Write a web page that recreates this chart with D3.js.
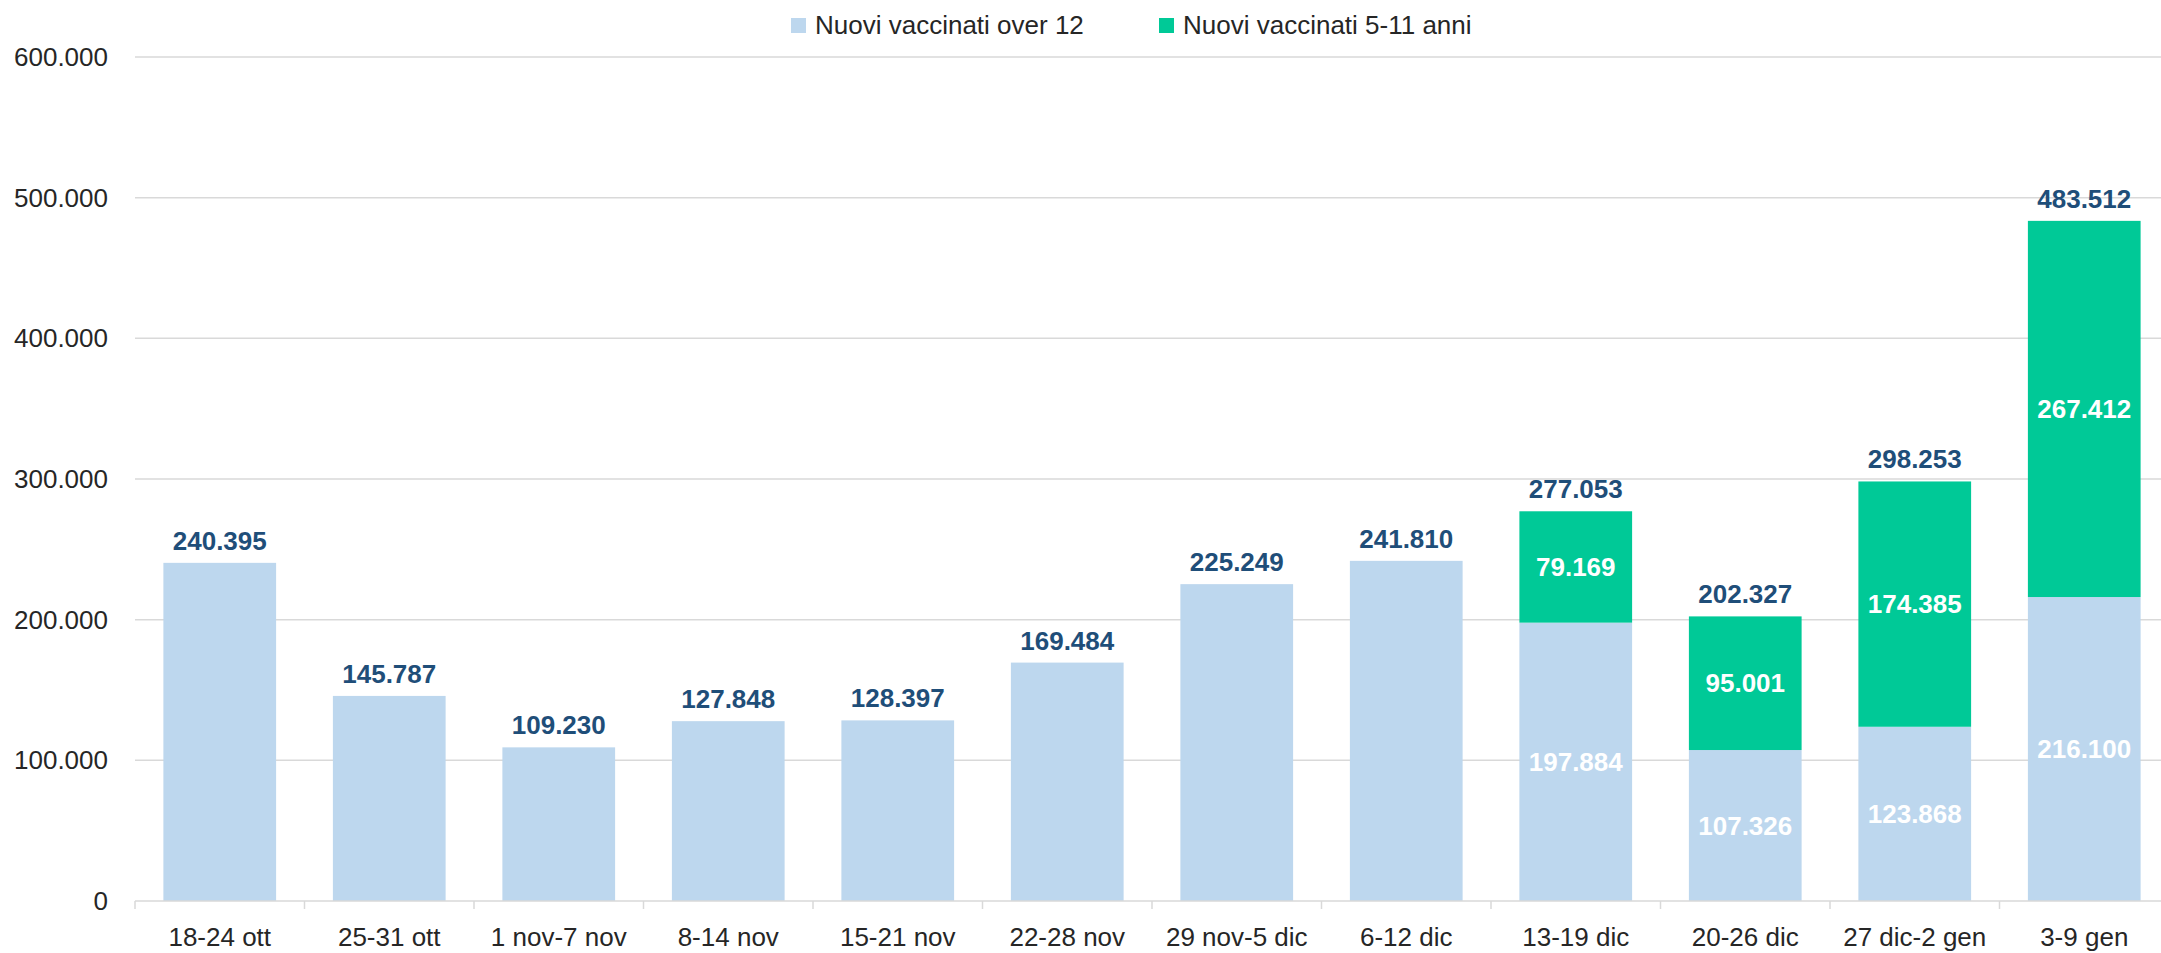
<!DOCTYPE html>
<html>
<head>
<meta charset="utf-8">
<script src="https://cdn.jsdelivr.net/npm/d3@7/dist/d3.min.js"></script>
<style>
  html, body { margin: 0; padding: 0; background: #ffffff; }
  svg { display: block; font-family: "Liberation Sans", Arial, sans-serif; }
</style>
</head>
<body>
<svg id="chart" width="2161" height="953"></svg>
<script>
const categories = ["18-24 ott", "25-31 ott", "1 nov-7 nov", "8-14 nov", "15-21 nov", "22-28 nov",
  "29 nov-5 dic", "6-12 dic", "13-19 dic", "20-26 dic", "27 dic-2 gen", "3-9 gen"];
const over12 = [240395, 145787, 109230, 127848, 128397, 169484, 225249, 241810, 197884, 107326, 123868, 216100];
const kids511 = [0, 0, 0, 0, 0, 0, 0, 0, 79169, 95001, 174385, 267412];
const yTicks = [0, 100000, 200000, 300000, 400000, 500000, 600000];
const seriesNames = ["Nuovi vaccinati over 12", "Nuovi vaccinati 5-11 anni"];
const colors = ["#BDD7EE", "#00C997"];

const svg = d3.select("#chart");
const plotLeft = 135, plotRight = 2169, plotTop = 57, plotBottom = 901;

const x = d3.scaleBand().domain(categories).range([plotLeft, plotRight]).paddingInner(0.335).paddingOuter(0.1675);
const y = d3.scaleLinear().domain([0, 600000]).range([plotBottom, plotTop]);

const fmt = v => d3.format(",")(v).replace(/,/g, ".");

// gridlines
svg.append("g").selectAll("line").data(yTicks.filter(t => t > 0)).join("line")
  .attr("x1", plotLeft).attr("x2", 2161)
  .attr("y1", d => y(d)).attr("y2", d => y(d))
  .attr("stroke", "#D9D9D9").attr("stroke-width", 1.5);

// y labels
svg.append("g").selectAll("text").data(yTicks).join("text")
  .attr("x", 108).attr("y", d => y(d)).attr("dy", "0.35em")
  .attr("text-anchor", "end").attr("font-size", 26).attr("fill", "#262626")
  .text(d => fmt(d));

// bars
const data = categories.map((c, i) => ({ c, a: over12[i], b: kids511[i], t: over12[i] + kids511[i] }));
const gBars = svg.append("g");
gBars.selectAll("rect.a").data(data).join("rect")
  .attr("class", "a")
  .attr("x", d => x(d.c)).attr("width", x.bandwidth())
  .attr("y", d => y(d.a)).attr("height", d => y(0) - y(d.a))
  .attr("fill", colors[0]);
gBars.selectAll("rect.b").data(data.filter(d => d.b > 0)).join("rect")
  .attr("class", "b")
  .attr("x", d => x(d.c)).attr("width", x.bandwidth())
  .attr("y", d => y(d.t)).attr("height", d => y(d.a) - y(d.t))
  .attr("fill", colors[1]);

// x axis
const gx = svg.append("g");
gx.append("line").attr("x1", plotLeft).attr("x2", plotRight).attr("y1", plotBottom).attr("y2", plotBottom)
  .attr("stroke", "#D9D9D9").attr("stroke-width", 1.5);
gx.selectAll("line.tick").data(d3.range(categories.length + 1)).join("line")
  .attr("class", "tick")
  .attr("x1", i => plotLeft + i * x.step()).attr("x2", i => plotLeft + i * x.step())
  .attr("y1", plotBottom).attr("y2", plotBottom + 8)
  .attr("stroke", "#D9D9D9").attr("stroke-width", 1.5);
gx.selectAll("text").data(categories).join("text")
  .attr("x", d => x(d) + x.bandwidth() / 2).attr("y", 946)
  .attr("text-anchor", "middle").attr("font-size", 26).attr("fill", "#262626")
  .text(d => d);

// labels
const gl = svg.append("g").attr("font-weight", "bold").attr("font-size", 26).attr("text-anchor", "middle");
gl.selectAll("text.tot").data(data).join("text")
  .attr("class", "tot")
  .attr("x", d => x(d.c) + x.bandwidth() / 2).attr("y", d => y(d.t) - 13)
  .attr("fill", "#1F4E79").text(d => fmt(d.t));
const stacked = data.filter(d => d.b > 0);
gl.selectAll("text.ia").data(stacked).join("text")
  .attr("class", "ia")
  .attr("x", d => x(d.c) + x.bandwidth() / 2).attr("y", d => (y(d.a) + y(0)) / 2).attr("dy", "0.35em")
  .attr("fill", "#ffffff").text(d => fmt(d.a));
gl.selectAll("text.ib").data(stacked).join("text")
  .attr("class", "ib")
  .attr("x", d => x(d.c) + x.bandwidth() / 2).attr("y", d => (y(d.a) + y(d.t)) / 2).attr("dy", "0.35em")
  .attr("fill", "#ffffff").text(d => fmt(d.b));

// legend
const legX = [791, 1159];
const gleg = svg.append("g");
seriesNames.forEach((n, i) => {
  gleg.append("rect").attr("x", legX[i]).attr("y", 18).attr("width", 15).attr("height", 15).attr("fill", colors[i]);
  gleg.append("text").attr("x", legX[i] + 24).attr("y", 34).attr("font-size", 26).attr("fill", "#262626").text(n);
});
</script>
</body>
</html>
